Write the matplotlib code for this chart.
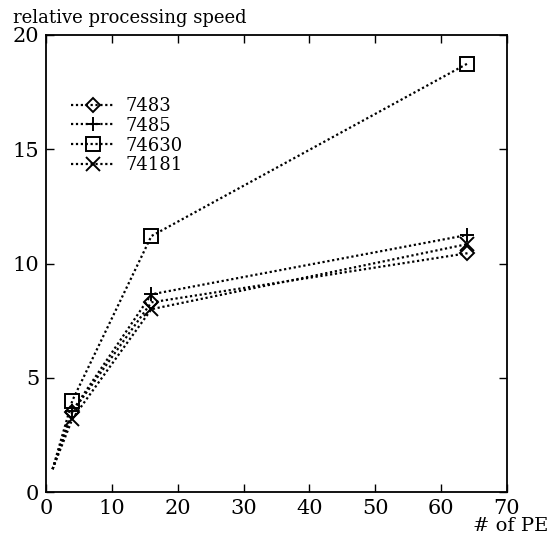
import matplotlib
matplotlib.use("Agg")
import matplotlib.pyplot as plt

# data ##################
pe = [1, 4, 16, 64]
speed_7483 = [1.0, 3.5, 8.3, 10.45]
speed_7485 = [1.0, 3.55, 8.65, 11.25]
speed_74630 = [1.0, 4.0, 11.2, 18.75]
speed_74181 = [1.0, 3.2, 8.0, 10.85]
labels = ["7483", "7485", "74630", "74181"]
markers = ["D", "+", "s", "x"]
##########################

plt.rcParams.update({
    "font.family": "DejaVu Serif",
    "font.size": 12,
})

fig = plt.figure(figsize=(5.59, 5.37), dpi=100)
ax = fig.add_axes([46/559, 45/537, 461/559, 457/537])

series = [speed_7483, speed_7485, speed_74630, speed_74181]
for ys, lab, mk in zip(series, labels, markers):
    ax.plot(
        pe, ys,
        color='black',
        ls=(0, (1, 1.2)),
        lw=1.6,
        marker=mk,
        markersize=7 if mk == "D" else 10,
        markerfacecolor='none',
        markeredgecolor='black',
        markeredgewidth=1.4,
        markevery=[1, 2, 3],
        label=lab
    )

ax.set_xlim(0, 70)
ax.set_ylim(0, 20)
ax.set_xticks(range(0, 71, 10))
ax.set_yticks(range(0, 21, 5))
ax.tick_params(direction='in', top=True, right=True, length=6, width=1,
               labelsize=15, pad=5)
for s in ax.spines.values():
    s.set_linewidth(1.3)

# axis titles
fig.text(13/559, 1 - 18/537, "relative processing speed", fontsize=13,
         va='center', ha='left')
fig.text(548/559, 1 - 526/537, "# of PE", fontsize=14,
         va='center', ha='right')

# legend
leg = ax.legend(
    loc='upper left',
    bbox_to_anchor=(0.02, 0.9),
    frameon=False,
    numpoints=1,
    handlelength=2.4,
    handletextpad=0.6,
    labelspacing=0.1,
    fontsize=13
)

plt.savefig("out.png", dpi=100)
